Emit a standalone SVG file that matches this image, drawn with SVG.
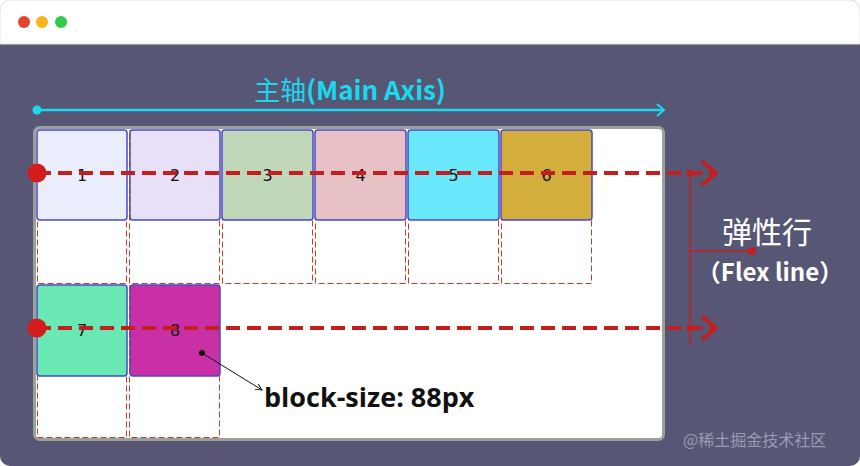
<svg xmlns="http://www.w3.org/2000/svg" width="860" height="466" viewBox="0 0 860 466">
<defs>
<style>
.item{stroke:#4a4ac4;stroke-width:1.5}
.cell{fill:none;stroke:#cc3a26;stroke-width:1;stroke-dasharray:6 3}
.num{font-family:"DejaVu Sans",sans-serif;font-size:16px;fill:#111;text-anchor:middle}
.flex{stroke:#c41e1e;stroke-width:4;stroke-dasharray:14 7;fill:none}
.chev{stroke:#c41e1e;stroke-width:4;fill:none;stroke-linecap:round;stroke-linejoin:round}
</style>
<marker id="ah" viewBox="0 0 10 10" refX="9" refY="5" markerWidth="8" markerHeight="8" orient="auto" markerUnits="userSpaceOnUse">
<path d="M1,1 L9,5 L1,9" fill="none" stroke="#111" stroke-width="1.2"/>
</marker>
</defs>
<rect x="0" y="0" width="860" height="466" rx="10" fill="#575775"/>
<path d="M0,44 V10 A10,10 0 0 1 10,0 H850 A10,10 0 0 1 860,10 V44 Z" fill="#ffffff" stroke="#e4e4e4" stroke-width="1"/>
<circle cx="24" cy="22" r="6" fill="#e8432c"/>
<circle cx="42" cy="22" r="6" fill="#f8b418"/>
<circle cx="61" cy="22" r="6" fill="#2ecc48"/>

<g id="main-axis">
<text x="350" y="100" font-family="'Noto Sans CJK SC','Open Sans',sans-serif" font-size="26" fill="#1ad8ee" text-anchor="middle">主轴<tspan font-weight="bold">(Main Axis)</tspan></text>
<line x1="37" y1="110" x2="663" y2="110" stroke="#1ad8ee" stroke-width="2.5"/>
<circle cx="37" cy="110" r="4.5" fill="#1ad8ee"/>
<path d="M657,104 L664,110 L657,116" fill="none" stroke="#1ad8ee" stroke-width="2"/>
</g>

<g id="container">
<rect x="34.5" y="127.5" width="629" height="312" rx="5" fill="#ffffff" stroke="#9aa09a" stroke-width="3"/>
</g>

<g id="cells">
<rect class="cell" x="37.5" y="130.5" width="89" height="153"/>
<rect class="cell" x="129.5" y="130.5" width="90" height="153"/>
<rect class="cell" x="222.5" y="130.5" width="90" height="153"/>
<rect class="cell" x="315.5" y="130.5" width="90" height="153"/>
<rect class="cell" x="408.5" y="130.5" width="90" height="153"/>
<rect class="cell" x="501.5" y="130.5" width="90" height="153"/>
<rect class="cell" x="37.5" y="285.5" width="89" height="152"/>
<rect class="cell" x="129.5" y="285.5" width="90" height="152"/>
</g>

<g id="item-1"><rect class="item" x="37" y="130" width="90" height="90" rx="3" fill="#eaeefc"/><text class="num" x="82" y="181">1</text></g>
<g id="item-2"><rect class="item" x="130" y="130" width="90" height="90" rx="3" fill="#e8e0f8"/><text class="num" x="175" y="181">2</text></g>
<g id="item-3"><rect class="item" x="222" y="130" width="91" height="90" rx="3" fill="#c0d6b8"/><text class="num" x="267.5" y="181">3</text></g>
<g id="item-4"><rect class="item" x="315" y="130" width="91" height="90" rx="3" fill="#e6c0c4"/><text class="num" x="360.5" y="181">4</text></g>
<g id="item-5"><rect class="item" x="408" y="130" width="91" height="90" rx="3" fill="#6ae8fb"/><text class="num" x="453.5" y="181">5</text></g>
<g id="item-6"><rect class="item" x="501" y="130" width="91" height="90" rx="3" fill="#d4ae3c"/><text class="num" x="546.5" y="181">6</text></g>
<g id="item-7"><rect class="item" x="37" y="285" width="90" height="91" rx="3" fill="#6ae8b4"/><text class="num" x="82" y="336">7</text></g>
<g id="item-8"><rect class="item" x="130" y="285" width="90" height="91" rx="3" fill="#c930a6"/><text class="num" x="175" y="336">8</text></g>

<g id="connectors">
<line class="flex" x1="37" y1="173" x2="712" y2="173"/>
<line class="flex" x1="37" y1="328" x2="712" y2="328"/>
<circle cx="37" cy="173" r="9.5" fill="#d41c1c"/>
<circle cx="37" cy="328" r="9.5" fill="#d41c1c"/>
<path class="chev" d="M703,162 L716,173 L703,184"/>
<path class="chev" d="M703,317 L716,328 L703,339"/>
<circle cx="690" cy="173" r="3.5" fill="#c41e1e"/>
<circle cx="690" cy="328" r="3.5" fill="#c41e1e"/>
<line x1="690" y1="173" x2="690" y2="345" stroke="#c41e1e" stroke-width="1.5"/>
<line x1="690" y1="251" x2="752" y2="251" stroke="#c41e1e" stroke-width="1.5"/>
<circle cx="752" cy="251" r="4" fill="#c41e1e"/>
<line x1="202" y1="353" x2="262" y2="390" stroke="#111" stroke-width="1" marker-end="url(#ah)"/>
<circle cx="202" cy="353" r="3" fill="#111"/>
</g>

<g id="label-flex-line">
<text x="767" y="243" font-family="'Noto Sans CJK SC',sans-serif" font-size="30" fill="#ffffff" text-anchor="middle">弹性行</text>
<text x="770" y="281" font-family="'Noto Sans CJK SC',sans-serif" font-size="24" font-weight="bold" fill="#ffffff" text-anchor="middle">（Flex line）</text>
</g>

<g id="label-block-size">
<text x="264" y="407" font-family="'Open Sans','DejaVu Sans',sans-serif" font-size="27" font-weight="bold" fill="#111">block-size: 88px</text>
</g>

<text x="683" y="446" font-family="'Noto Sans CJK SC',sans-serif" font-size="16" fill="#9a9ab4">@稀土掘金技术社区</text>
</svg>
